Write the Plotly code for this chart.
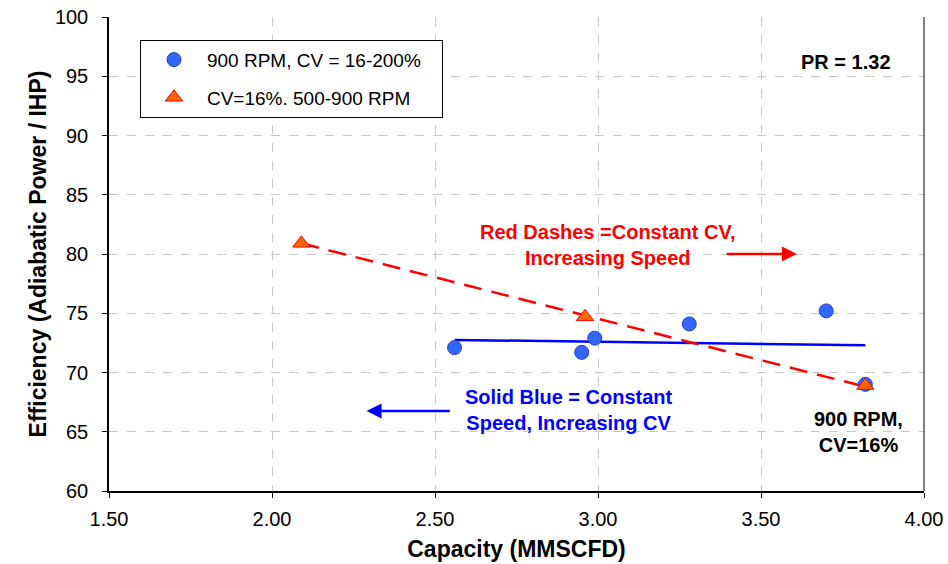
from plotly import graph_objects as go

# 900 RPM, variable clearance volume
cap_speed = [2.56, 2.95, 2.99, 3.28, 3.70, 3.82]
eff_speed = [72.1, 71.7, 72.9, 74.1, 75.2, 69.0]

# constant CV, variable speed
cap_cv = [2.09, 2.96, 3.82]
eff_cv = [80.9, 74.7, 68.9]

# trend lines (end points)
blue_trend_x = [2.56, 3.82]
blue_trend_y = [72.75, 72.3]
red_trend_x = [2.09, 3.82]
red_trend_y = [80.9, 68.8]

x_ticks = [1.5, 2.0, 2.5, 3.0, 3.5, 4.0]
y_ticks = [60, 65, 70, 75, 80, 85, 90, 95, 100]

FONT = "Liberation Sans, Arial, sans-serif"

fig = go.Figure()

fig.add_trace(go.Scatter(
    x=blue_trend_x, y=blue_trend_y, mode="lines",
    line=dict(color="#0000FF", width=2.5), showlegend=False, hoverinfo="skip"))
fig.add_trace(go.Scatter(
    x=red_trend_x, y=red_trend_y, mode="lines",
    line=dict(color="#FF0000", width=2.5, dash="18px,10px"), showlegend=False, hoverinfo="skip"))

fig.add_trace(go.Scatter(
    x=cap_speed, y=eff_speed, mode="markers", name="900 RPM, CV = 16-200%\u00a0\u00a0\u00a0",
    legendgroup="a",
    marker=dict(symbol="circle", size=14, color="#3366FF",
                line=dict(color="#1F3FCC", width=1))))
fig.add_trace(go.Scatter(
    x=cap_cv, y=eff_cv, mode="markers", name="CV=16%. 500-900 RPM",
    legendgroup="b",
    marker=dict(symbol="triangle-up", size=15, color="#FF6600",
                line=dict(color="#FF0000", width=1))))

bold = dict(family=FONT, size=20)

fig.add_annotation(x=3.76, y=96.2, text="<b>PR = 1.32</b>", showarrow=False,
                   font=dict(color="black", **bold), xanchor="center")
fig.add_annotation(x=3.03, y=80.8, text="<b>Red Dashes =Constant CV,<br>Increasing Speed</b>",
                   showarrow=False, font=dict(color="#FF0000", **bold), align="center")
fig.add_annotation(x=3.61, y=80.0, ax=3.39, ay=80.0, xref="x", yref="y", axref="x", ayref="y",
                   text="", showarrow=True, arrowhead=2, arrowsize=1.2, arrowwidth=2.5,
                   arrowcolor="#FF0000")
fig.add_annotation(x=2.91, y=66.8, text="<b>Solid Blue = Constant<br>Speed, Increasing CV</b>",
                   showarrow=False, font=dict(color="#0000FF", **bold), align="center")
fig.add_annotation(x=2.29, y=66.75, ax=2.55, ay=66.75, xref="x", yref="y", axref="x", ayref="y",
                   text="", showarrow=True, arrowhead=2, arrowsize=1.2, arrowwidth=2.5,
                   arrowcolor="#0000FF")
fig.add_annotation(x=3.80, y=65.0, text="<b>900 RPM,<br>CV=16%</b>", showarrow=False,
                   font=dict(color="black", **bold), align="center")

axis_common = dict(
    showline=True, linecolor="black", linewidth=1.5, mirror=False,
    ticks="outside", ticklen=5, tickcolor="black",
    showgrid=True, gridcolor="#C8C8C8", griddash="dash", gridwidth=1,
    zeroline=False, tickfont=dict(family=FONT, size=20, color="black"),
    ticklabeloverflow="allow",
)

fig.update_layout(
    width=948, height=564,
    margin=dict(l=109, r=24, t=17, b=73),
    paper_bgcolor="white", plot_bgcolor="white",
    font=dict(family=FONT, color="black"),
    xaxis=dict(range=[1.5, 4.0], tickvals=x_ticks, tickformat=".2f", automargin=False,
               ticklabelstandoff=4,
               title=dict(text="<b>Capacity (MMSCFD)</b>", font=dict(family=FONT, size=23), standoff=12),
               **axis_common),
    yaxis=dict(range=[60, 100], tickvals=y_ticks, automargin="left",
               ticklabelstandoff=10,
               title=dict(text="<b>Efficiency (Adiabatic Power / IHP)</b>", font=dict(family=FONT, size=23), standoff=2),
               **axis_common),
    legend=dict(x=0.038, y=0.952, xanchor="left", yanchor="top",
                bordercolor="black", borderwidth=1, bgcolor="white",
                font=dict(family=FONT, size=19), tracegroupgap=10,
                itemwidth=56),
    showlegend=True,
)

# right border of the plot area
fig.add_shape(type="line", xref="paper", yref="paper", x0=1, x1=1, y0=0, y1=1,
              line=dict(color="#555555", width=1.5))

# drop the default 8px page margin so the figure fills the window
fig.write_html("out.html", config={"displayModeBar": False},
               post_script="document.body.style.margin='0';")
